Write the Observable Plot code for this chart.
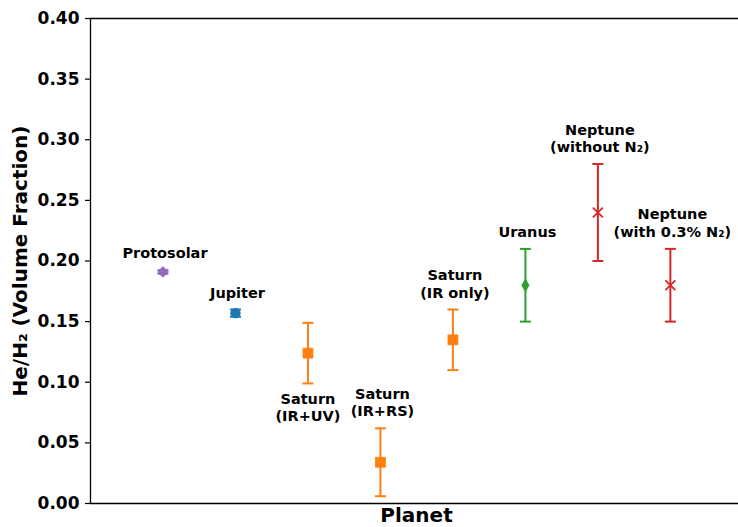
<!DOCTYPE html>
<html>
<head>
<meta charset="utf-8">
<script src="https://cdn.jsdelivr.net/npm/d3@7"></script>
<script src="https://cdn.jsdelivr.net/npm/@observablehq/plot@0.6"></script>
<style>
  body { margin: 0; background: #fff; }
</style>
</head>
<body>
<div id="chart"></div>
<script>
// Helium-to-hydrogen volume ratios for the giant planets and the protosolar value
const labels = [
  "Protosolar",
  "Jupiter",
  "Saturn\n(IR+UV)",
  "Saturn\n(IR+RS)",
  "Saturn\n(IR only)",
  "Uranus",
  "Neptune\n(without N₂)",
  "Neptune\n(with 0.3% N₂)"
];
const bodies = ["Protosolar", "Jupiter", "Saturn", "Saturn", "Saturn", "Uranus", "Neptune", "Neptune"];
const heH2 = [0.191, 0.157, 0.124, 0.034, 0.135, 0.18, 0.24, 0.18];
const heH2Error = [0.0015, 0.003, 0.025, 0.028, 0.025, 0.03, 0.04, 0.03];
const labelBelow = [false, false, true, false, false, false, false, false];
const yTicks = [0, 0.05, 0.10, 0.15, 0.20, 0.25, 0.30, 0.35, 0.40];

// Marker appearance for each body
const look = {
  Protosolar: {color: "#9467bd", symbol: "diamond2", r: 4.8},
  Jupiter:    {color: "#1f77b4", symbol: "circle",   r: 4.8},
  Saturn:     {color: "#ff7f0e", symbol: "square",   r: 5.6},
  Uranus:     {color: "#2ca02c", symbol: "diamond",  r: 3.8},
  Neptune:    {color: "#d62728", symbol: "times",    r: 4.6}
};

const rows = labels.map((label, i) => ({
  i,
  label,
  body: bodies[i],
  value: heH2[i],
  lo: heH2[i] - heH2Error[i],
  hi: heH2[i] + heH2Error[i],
  below: labelBelow[i]
}));
const caps = rows.flatMap(d => [{...d, y: d.lo}, {...d, y: d.hi}]);
const colorOf = d => look[d.body].color;

// Horizontal error-bar cap
const capSymbol = {
  draw(context) {
    context.moveTo(-5.5, 0);
    context.lineTo(5.5, 0);
  }
};

const font = "DejaVu Sans, sans-serif";

const chart = Plot.plot({
  width: 738,
  height: 527,
  marginLeft: 90,
  marginRight: 0,
  marginTop: 18,
  marginBottom: 24,
  style: {fontFamily: font, background: "#fff", color: "#000"},
  x: {type: "linear", domain: [-1, 7.94], axis: null},
  y: {domain: [0, 0.4], axis: null},
  color: {type: "identity"},
  marks: [
    // tick marks and labels on the value axis
    Plot.axisY({
      ticks: yTicks,
      tickFormat: d3.format(".2f"),
      tickSize: 5,
      tickPadding: 6,
      fontSize: 17,
      fontWeight: "bold",
      label: null,
      strokeWidth: 1.2
    }),
    // error bars
    Plot.ruleX(rows, {x: "i", y1: "lo", y2: "hi", stroke: colorOf, strokeWidth: 2}),
    Plot.dot(caps, {x: "i", y: "y", symbol: capSymbol, stroke: colorOf, strokeWidth: 2, fill: "none"}),
    // markers
    ...Object.keys(look).map(b => {
      const s = look[b];
      const stroked = s.symbol === "times";
      return Plot.dot(rows.filter(d => d.body === b), {
        x: "i",
        y: "value",
        symbol: s.symbol,
        r: s.r,
        fill: stroked ? "none" : s.color,
        stroke: s.color,
        strokeWidth: stroked ? 1.8 : 0.8
      });
    }),
    // annotations
    Plot.text(rows.filter(d => !d.below), {
      x: "i", y: "hi", text: "label",
      lineAnchor: "bottom", dx: 2, dy: -12, lineHeight: 1.2,
      fontSize: 14.5, fontWeight: "bold", fill: "#000"
    }),
    Plot.text(rows.filter(d => d.below), {
      x: "i", y: "lo", text: "label",
      lineAnchor: "top", dx: 0, dy: 8, lineHeight: 1.2,
      fontSize: 14.5, fontWeight: "bold", fill: "#000"
    }),
    // spines
    Plot.ruleY([0, 0.4], {stroke: "#000", strokeWidth: 1.3}),
    Plot.ruleX([-1], {stroke: "#000", strokeWidth: 1.3}),
    // axis titles
    Plot.text(["He/H₂ (Volume Fraction)"], {
      frameAnchor: "left", textAnchor: "middle", rotate: -90, dx: -70,
      fontSize: 20, fontWeight: "bold", fill: "#000"
    }),
    Plot.text(["Planet"], {
      frameAnchor: "bottom", textAnchor: "middle", dx: 2, dy: 12, lineAnchor: "middle",
      fontSize: 20, fontWeight: "bold", fill: "#000"
    })
  ]
});

document.getElementById("chart").appendChild(chart);
</script>
</body>
</html>
